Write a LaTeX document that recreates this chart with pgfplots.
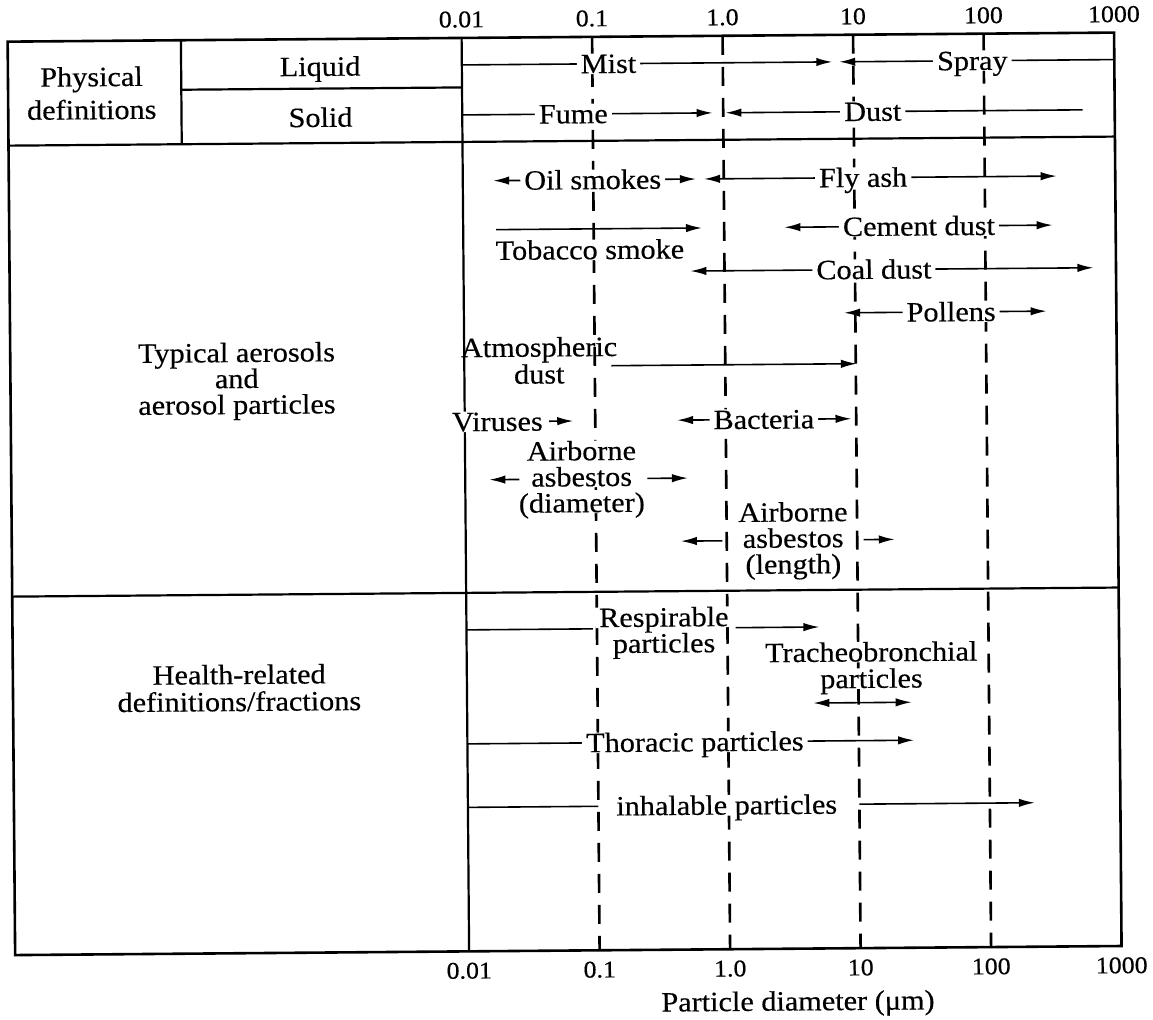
\documentclass[border=0pt]{standalone}
\usepackage{fontspec}
\setmainfont{Liberation Serif}[FakeStretch=1.08, FakeBold=0.4]
\usepackage{pgfplots}
\pgfplotsset{compat=1.18}
\usetikzlibrary{arrows.meta}
\begin{document}
\begin{tikzpicture}[
  lbl/.style={fill=white, inner xsep=2pt, inner ysep=0.5pt, font=\fontsize{14}{13}\selectfont, text height=9.3pt, text depth=0pt},
  nlbl/.style={lbl, fill=none},
  ar/.style={line width=0.8pt, -{Latex[length=8pt,width=4.2pt]}},
  dar/.style={line width=0.8pt, {Latex[length=8pt,width=4.2pt]}-{Latex[length=8pt,width=4.2pt]}},
  ln/.style={line width=0.8pt},
  tbl/.style={line width=1.1pt},
  dsh/.style={line width=1.3pt, dash pattern=on 9.5pt off 6pt},
]
\path[use as bounding box] (-5.75pt,-34.75pt) rectangle (570.75pt,475.25pt);
\begin{scope}[transform canvas={rotate around={0.47:(282.5pt,220.25pt)}}]
\begin{axis}[
  scale only axis, width=553.25pt, height=456.75pt,
  xmode=log, xmin=3.32e-6, xmax=1000,
  y dir=reverse, ymin=37, ymax=950.5,
  xtick={0.01,0.1,1,10,100,1000},
  xticklabels={0.01,0.1,1.0,10,100,1000},
  ytick=\empty, minor xtick={},
  major tick length=0pt, minor tick length=0pt,
  xtick style={draw=none},
  xticklabel style={font=\fontsize{12}{12}\selectfont, yshift=-2.1pt},
  axis line style={line width=1.3pt},
  clip=false, no marks,
]
% dashed decade lines
\addplot[dsh] coordinates {(0.1,37) (0.1,950.5)};
\addplot[dsh] coordinates {(1,37) (1,950.5)};
\addplot[dsh] coordinates {(10,37) (10,950.5)};
\addplot[dsh] coordinates {(100,37) (100,950.5)};
% table rules
\addplot[tbl] coordinates {(0.01,37) (0.01,950.5)};
\addplot[tbl] coordinates {(7.06e-5,37) (7.06e-5,141)};
\addplot[tbl] coordinates {(3.32e-6,141) (1000,141)};
\addplot[tbl] coordinates {(3.32e-6,592) (1000,592)};
\addplot[tbl] coordinates {(7.06e-5,86.5) (0.01,86.5)};
% physical definitions
\addplot[ar] coordinates {(0.01,64) (6.9,64)};
\addplot[ar] coordinates {(1000,64) (7.8,64)};
\addplot[ar] coordinates {(0.01,114) (0.83,114)};
\addplot[ar] coordinates {(568,114) (1.04,114)};
% typical aerosols
\addplot[dar] coordinates {(0.0171,180) (0.612,180)};
\addplot[dar] coordinates {(0.706,180) (356,180)};
\addplot[ar] coordinates {(0.0179,229) (0.676,229)};
\addplot[dar] coordinates {(2.89,229) (329,229)};
\addplot[dar] coordinates {(0.547,272) (672,272)};
\addplot[dar] coordinates {(8.2,315) (292,315)};
\addplot[ar] coordinates {(0.134,366) (10.2,366)};
\addplot[ar] coordinates {(0.0443,421) (0.0678,421)};
\addplot[dar] coordinates {(0.424,421) (9.2,421)};
\addplot[ar] coordinates {(0.026,479) (0.0153,479)};
\addplot[ar] coordinates {(0.249,479) (0.509,479)};
\addplot[ar] coordinates {(0.925,542) (0.445,542)};
\addplot[ar] coordinates {(11.2,542) (19.4,542)};
% health related
\addplot[ln] coordinates {(0.01,629) (0.093,629)};
\addplot[ar] coordinates {(1.155,629) (5.07,629)};
\addplot[dar] coordinates {(4.5,705) (25.5,705)};
\addplot[ar] coordinates {(0.01,743) (26.5,743)};
\addplot[ln] coordinates {(0.01,806.5) (0.1,806.5)};
\addplot[ar] coordinates {(10,806.5) (221,806.5)};
% labels right part
\node[lbl] at (axis cs:0.133,64) {Mist};
\node[lbl] at (axis cs:81.7,64) {Spray};
\node[lbl] at (axis cs:0.071,114) {Fume};
\node[lbl] at (axis cs:14,114) {Dust};
\node[lbl] at (axis cs:0.099,180) {Oil smokes};
\node[lbl] at (axis cs:11.7,180) {Fly ash};
\node[lbl] at (axis cs:0.0933,250) {Tobacco smoke};
\node[lbl] at (axis cs:31.1,229) {Cement dust};
\node[lbl] at (axis cs:13.96,272) {Coal dust};
\node[lbl] at (axis cs:54.2,315) {Pollens};
\node[nlbl] at (axis cs:0.0375,347) {Atmospheric};
\node[nlbl] at (axis cs:0.0375,374) {dust};
\node[lbl] at (axis cs:0.0178,421) {Viruses};
\node[lbl] at (axis cs:1.96,421) {Bacteria};
\node[lbl] at (axis cs:0.078,451) {Airborne};
\node[lbl] at (axis cs:0.078,477) {asbestos};
\node[lbl] at (axis cs:0.078,503) {(diameter)};
\node[lbl] at (axis cs:3.23,514) {Airborne};
\node[lbl] at (axis cs:3.23,540) {asbestos};
\node[lbl] at (axis cs:3.23,566) {(length)};
\node[lbl] at (axis cs:0.326,618) {Respirable};
\node[lbl] at (axis cs:0.326,644) {particles};
\node[lbl] at (axis cs:12.6,654.5) {Tracheobronchial};
\node[lbl] at (axis cs:12.6,681) {particles};
\node[lbl] at (axis cs:0.554,743) {Thoracic particles};
\node[lbl] at (axis cs:0.962,806.5) {inhalable particles};
% labels left table
\node[nlbl] at (axis cs:1.45e-5,73) {Physical};
\node[nlbl] at (axis cs:1.45e-5,106) {definitions};
\node[nlbl] at (axis cs:8.2e-4,64.5) {Liquid};
\node[nlbl] at (axis cs:8.2e-4,115.5) {Solid};
\node[nlbl] at (axis cs:1.8e-4,350) {Typical aerosols};
\node[nlbl] at (axis cs:1.8e-4,376) {and};
\node[nlbl] at (axis cs:1.8e-4,402) {aerosol particles};
\node[nlbl] at (axis cs:1.8e-4,672) {Health-related};
\node[nlbl] at (axis cs:1.8e-4,699) {definitions/fractions};
\node[nlbl] at (axis cs:3.29,1003) {Particle diameter (μm)};
\end{axis}
\begin{axis}[
  scale only axis, width=553.25pt, height=456.75pt,
  xmode=log, xmin=3.32e-6, xmax=1000,
  y dir=reverse, ymin=37, ymax=950.5,
  xtick={0.01,0.1,1,10,100,1000},
  xticklabels={0.01,0.1,1.0,10,100,1000},
  xticklabel pos=upper,
  ytick=\empty, minor xtick={},
  major tick length=0pt, minor tick length=0pt,
  xtick style={draw=none},
  xticklabel style={font=\fontsize{12}{12}\selectfont, yshift=1.6pt},
  axis line style={draw=none},
]
\end{axis}
\end{scope}
\end{tikzpicture}
\end{document}
